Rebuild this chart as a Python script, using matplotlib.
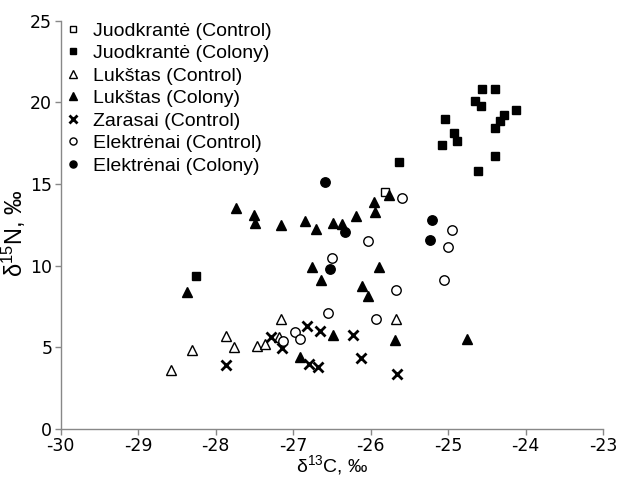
import matplotlib
matplotlib.use("Agg")
import matplotlib.pyplot as plt

plt.rcParams['font.family'] = ['Liberation Sans', 'DejaVu Sans']
plt.rcParams['mathtext.fontset'] = 'custom'
plt.rcParams['mathtext.rm'] = 'Liberation Sans'
plt.rcParams['mathtext.it'] = 'Liberation Sans:italic'

# Juodkrantė (Control)
jc_x = [-25.82]
jc_y = [14.49]
# Juodkrantė (Colony)
jk_x = [-28.25, -25.64, -24.56, -24.39, -24.65, -24.58, -24.12, -24.28, -24.33,
        -25.04, -24.40, -24.93, -24.88, -25.08, -24.39, -24.62]
jk_y = [9.37, 16.33, 20.84, 20.82, 20.10, 19.78, 19.53, 19.21, 18.88,
        18.96, 18.41, 18.14, 17.65, 17.39, 16.70, 15.80]
# Lukštas (Control)
lc_x = [-28.58, -28.31, -27.86, -27.76, -27.47, -27.36, -27.18, -27.15, -25.67]
lc_y = [3.59, 4.84, 5.69, 5.00, 5.06, 5.19, 5.62, 6.72, 6.75]
# Lukštas (Colony)
lk_x = [-28.37, -27.74, -27.50, -27.49, -27.15, -26.85, -26.71, -26.48, -26.37,
        -26.19, -25.95, -25.94, -25.76, -26.75, -26.64, -25.89, -26.11, -26.03,
        -26.49, -26.91, -25.68, -24.76]
lk_y = [8.37, 13.51, 13.10, 12.61, 12.50, 12.73, 12.23, 12.60, 12.57,
        13.04, 13.89, 13.29, 14.33, 9.92, 9.12, 9.90, 8.76, 8.16,
        5.79, 4.39, 5.45, 5.51]
# Zarasai (Control)
zc_x = [-27.87, -27.28, -27.14, -26.82, -26.65, -26.23, -26.13, -26.79, -26.68, -25.66]
zc_y = [3.92, 5.62, 4.94, 6.31, 5.98, 5.74, 4.38, 3.98, 3.82, 3.37]
# Elektrėnai (Control)
ec_x = [-27.13, -26.97, -26.91, -26.55, -25.93, -25.67, -26.04, -26.50, -25.60,
        -25.05, -25.00, -24.95]
ec_y = [5.39, 5.95, 5.49, 7.10, 6.71, 8.49, 11.49, 10.49, 14.12,
        9.12, 11.15, 12.20]
# Elektrėnai (Colony)
ek_x = [-26.59, -26.33, -26.52, -25.21, -25.24]
ek_y = [15.11, 12.09, 9.80, 12.78, 11.57]

x_ticks = [-30, -29, -28, -27, -26, -25, -24, -23]
y_ticks = [0, 5, 10, 15, 20, 25]

fig = plt.figure(figsize=(6.18, 4.8), dpi=100)
ax = fig.add_axes([0.098, 0.106, 0.878, 0.851])

ax.plot(jc_x, jc_y, 's', ms=6, mfc='white', mec='black', mew=1.0, label='Juodkrantė (Control)')
ax.plot(jk_x, jk_y, 's', ms=6, mfc='black', mec='black', mew=1.0, label='Juodkrantė (Colony)')
ax.plot(lc_x, lc_y, '^', ms=7, mfc='white', mec='black', mew=1.0, label='Lukštas (Control)')
ax.plot(lk_x, lk_y, '^', ms=7, mfc='black', mec='black', mew=1.0, label='Lukštas (Colony)')
ax.plot(zc_x, zc_y, 'x', ms=7.5, mec='black', mew=2.0, label='Zarasai (Control)')
ax.plot(ec_x, ec_y, 'o', ms=6.8, mfc='white', mec='black', mew=1.0, label='Elektrėnai (Control)')
ax.plot(ek_x, ek_y, 'o', ms=6.8, mfc='black', mec='black', mew=1.0, label='Elektrėnai (Colony)')

ax.set_xlim(-30, -23)
ax.set_ylim(0, 25)
ax.set_xticks(x_ticks)
ax.set_yticks(y_ticks)
ax.set_xticklabels([str(v) for v in x_ticks], fontfamily='DejaVu Sans')
ax.set_yticklabels([str(v) for v in y_ticks], fontfamily='DejaVu Sans')

for s in ['top', 'right']:
    ax.spines[s].set_visible(False)
for s in ['left', 'bottom']:
    ax.spines[s].set_color('#888888')
    ax.spines[s].set_linewidth(1.0)
ax.tick_params(axis='both', direction='out', length=4, width=1.0, color='#888888',
               labelsize=12.5, labelcolor='black')
ax.tick_params(axis='x', pad=1.5)
ax.tick_params(axis='y', pad=2)

ax.set_xlabel('δ$^{\\mathrm{13}}$C, ‰', fontsize=14)
ax.xaxis.set_label_coords(0.5, -0.058)
ax.set_ylabel('δ$^{\\mathrm{15}}$N, ‰', fontsize=17)
ax.yaxis.set_label_coords(-0.06, 0.48)

leg = ax.legend(loc='upper left', bbox_to_anchor=(-0.012, 1.025), frameon=False,
                fontsize=14, markerscale=0.75, handlelength=0.8, handletextpad=0.6,
                labelspacing=0.25, borderaxespad=0.2)

fig.savefig('out.png', dpi=100)
